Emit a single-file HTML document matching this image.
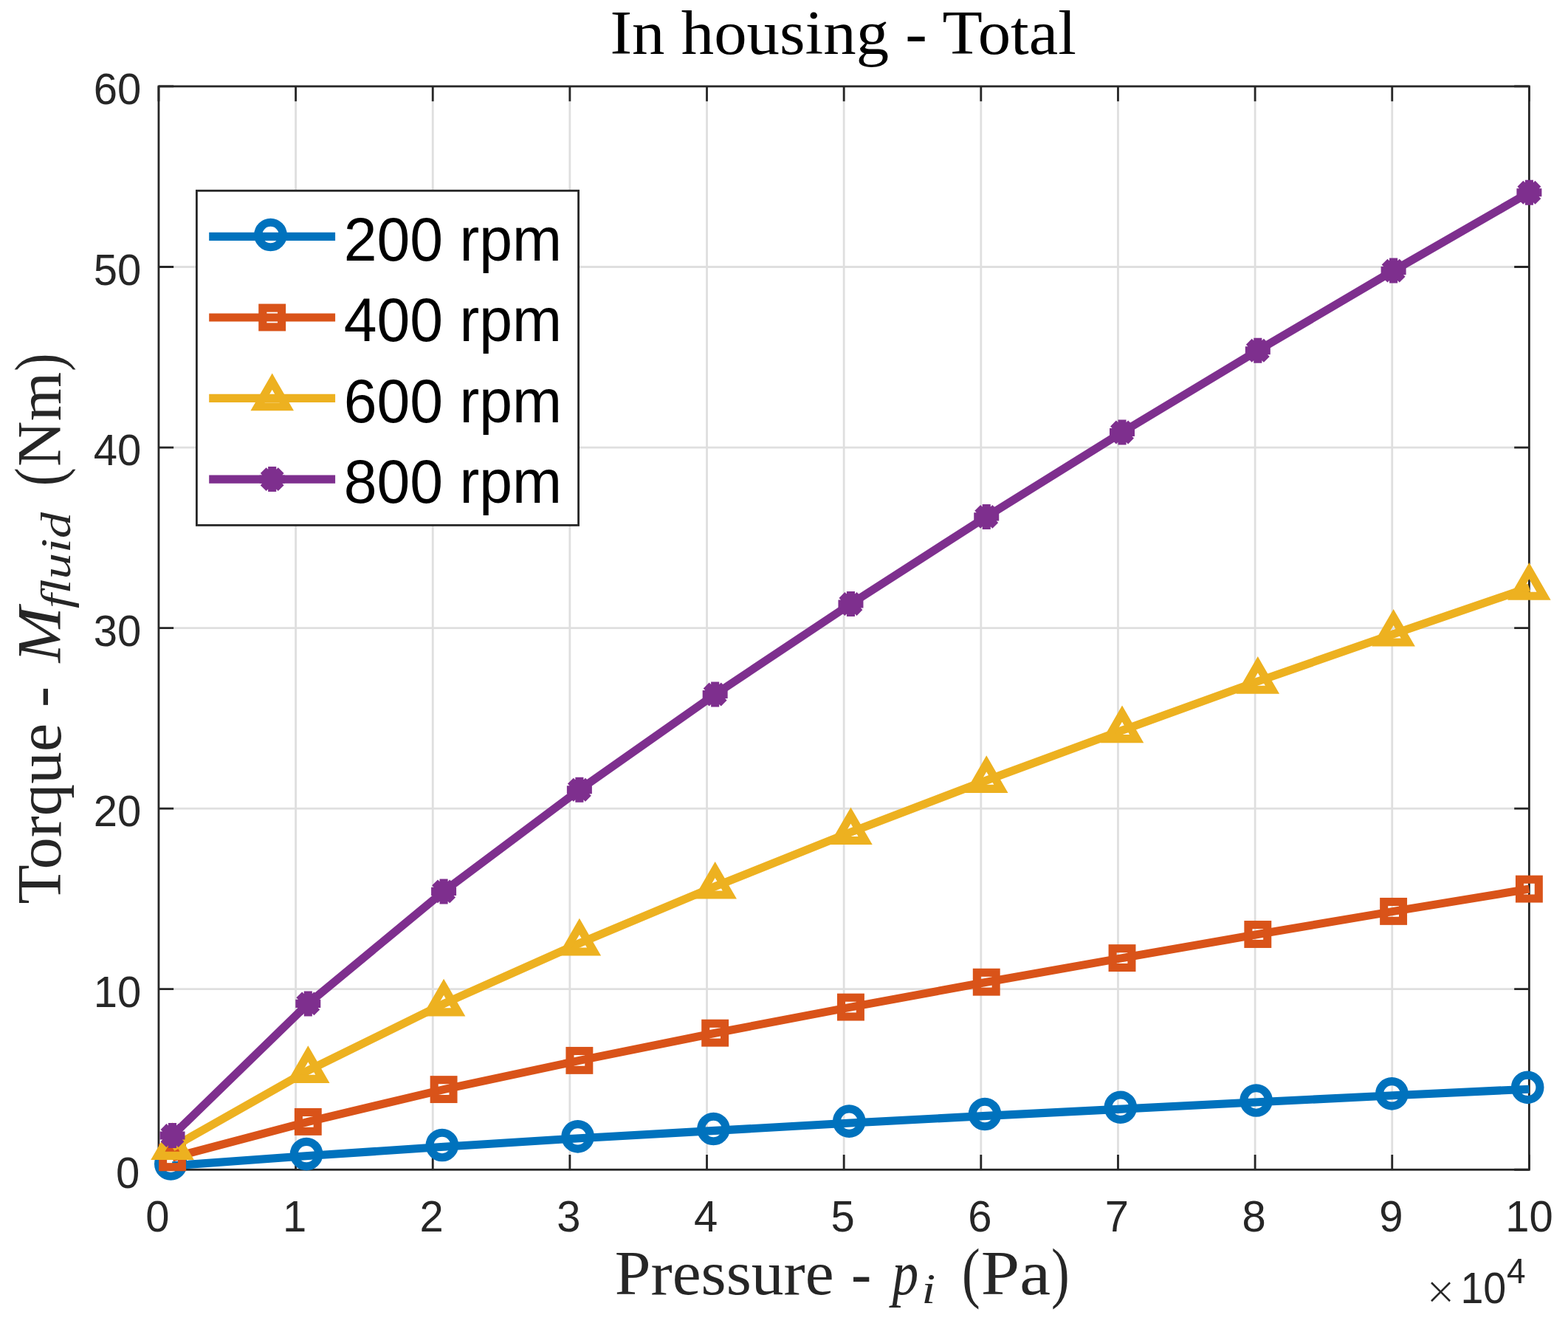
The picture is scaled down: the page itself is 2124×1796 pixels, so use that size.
<!DOCTYPE html>
<html><head><meta charset="utf-8"><title>In housing - Total</title><style>html,body{margin:0;padding:0;background:#fff;overflow:hidden}svg{display:block}</style></head><body>
<svg width="2124" height="1796" viewBox="0 0 2124 1796">
<rect width="2124" height="1796" fill="#fff"/>
<g stroke="#DFDFDF" stroke-width="2.8"><line x1="400.6" y1="116.95" x2="400.6" y2="1584.25"/>
<line x1="586.24" y1="116.95" x2="586.24" y2="1584.25"/>
<line x1="771.88" y1="116.95" x2="771.88" y2="1584.25"/>
<line x1="957.53" y1="116.95" x2="957.53" y2="1584.25"/>
<line x1="1143.17" y1="116.95" x2="1143.17" y2="1584.25"/>
<line x1="1328.82" y1="116.95" x2="1328.82" y2="1584.25"/>
<line x1="1514.47" y1="116.95" x2="1514.47" y2="1584.25"/>
<line x1="1700.11" y1="116.95" x2="1700.11" y2="1584.25"/>
<line x1="1885.76" y1="116.95" x2="1885.76" y2="1584.25"/>
<line x1="214.95" y1="1339.7" x2="2071.4" y2="1339.7"/>
<line x1="214.95" y1="1095.15" x2="2071.4" y2="1095.15"/>
<line x1="214.95" y1="850.6" x2="2071.4" y2="850.6"/>
<line x1="214.95" y1="606.05" x2="2071.4" y2="606.05"/>
<line x1="214.95" y1="361.5" x2="2071.4" y2="361.5"/></g>
<g stroke="#262626" stroke-width="2.8" fill="none" stroke-linecap="butt"><rect x="214.95" y="116.95" width="1856.45" height="1467.3" fill="none"/>
<path d="M214.95 1584.25V1564.05M214.95 116.95V137.15M400.6 1584.25V1564.05M400.6 116.95V137.15M586.24 1584.25V1564.05M586.24 116.95V137.15M771.88 1584.25V1564.05M771.88 116.95V137.15M957.53 1584.25V1564.05M957.53 116.95V137.15M1143.17 1584.25V1564.05M1143.17 116.95V137.15M1328.82 1584.25V1564.05M1328.82 116.95V137.15M1514.47 1584.25V1564.05M1514.47 116.95V137.15M1700.11 1584.25V1564.05M1700.11 116.95V137.15M1885.76 1584.25V1564.05M1885.76 116.95V137.15M2071.4 1584.25V1564.05M2071.4 116.95V137.15M214.95 1584.25H235.15M2071.4 1584.25H2051.2M214.95 1339.7H235.15M2071.4 1339.7H2051.2M214.95 1095.15H235.15M2071.4 1095.15H2051.2M214.95 850.6H235.15M2071.4 850.6H2051.2M214.95 606.05H235.15M2071.4 606.05H2051.2M214.95 361.5H235.15M2071.4 361.5H2051.2M214.95 116.95H235.15M2071.4 116.95H2051.2"/></g>
<g font-family="'Liberation Sans', Arial, Helvetica, sans-serif" fill="#262626"><text transform="translate(189.2 1608.55) scale(1 1.028)" font-size="58" text-anchor="end">0</text>
<text transform="translate(191.2 1364) scale(1 1.028)" font-size="58" text-anchor="end">10</text>
<text transform="translate(191.2 1119.45) scale(1 1.028)" font-size="58" text-anchor="end">20</text>
<text transform="translate(191.2 874.9) scale(1 1.028)" font-size="58" text-anchor="end">30</text>
<text transform="translate(191.2 630.35) scale(1 1.028)" font-size="58" text-anchor="end">40</text>
<text transform="translate(191.2 385.8) scale(1 1.028)" font-size="58" text-anchor="end">50</text>
<text transform="translate(191.2 141.25) scale(1 1.028)" font-size="58" text-anchor="end">60</text>
<text transform="translate(213.45 1667.5) scale(1 1.028)" font-size="58" text-anchor="middle">0</text>
<text transform="translate(399.1 1667.5) scale(1 1.028)" font-size="58" text-anchor="middle">1</text>
<text transform="translate(584.74 1667.5) scale(1 1.028)" font-size="58" text-anchor="middle">2</text>
<text transform="translate(770.38 1667.5) scale(1 1.028)" font-size="58" text-anchor="middle">3</text>
<text transform="translate(956.03 1667.5) scale(1 1.028)" font-size="58" text-anchor="middle">4</text>
<text transform="translate(1141.67 1667.5) scale(1 1.028)" font-size="58" text-anchor="middle">5</text>
<text transform="translate(1327.32 1667.5) scale(1 1.028)" font-size="58" text-anchor="middle">6</text>
<text transform="translate(1512.97 1667.5) scale(1 1.028)" font-size="58" text-anchor="middle">7</text>
<text transform="translate(1698.61 1667.5) scale(1 1.028)" font-size="58" text-anchor="middle">8</text>
<text transform="translate(1884.26 1667.5) scale(1 1.028)" font-size="58" text-anchor="middle">9</text>
<text transform="translate(2071.4 1667.5) scale(1 1.028)" font-size="58" text-anchor="middle">10</text>
<text transform="translate(1978.4 1764.5) scale(1 1.028)" font-size="58" textLength="61.8" lengthAdjust="spacingAndGlyphs">10</text>
<text transform="translate(2041 1737.9) scale(1 1.028)" font-size="46">4</text></g>
<text x="1929.8" y="1765.8" font-family="'DejaVu Sans', sans-serif" font-weight="200" font-size="52" fill="#262626">×</text>
<polyline points="233.51,1578.85 417.3,1565.45 601.09,1553.3 784.88,1541.7 968.67,1531.4 1152.46,1521 1336.25,1511.4 1520.03,1502.1 1703.82,1492.8 1887.61,1483.7 2071.4,1475.2" fill="none" stroke="#0072BD" stroke-width="11.1" stroke-linejoin="miter" stroke-linecap="butt"/>
<circle cx="231.31" cy="1576.5" r="16.75" fill="none" stroke="#0072BD" stroke-width="11.1"/>
<circle cx="415.1" cy="1563.1" r="16.75" fill="none" stroke="#0072BD" stroke-width="11.1"/>
<circle cx="598.89" cy="1550.95" r="16.75" fill="none" stroke="#0072BD" stroke-width="11.1"/>
<circle cx="782.68" cy="1539.35" r="16.75" fill="none" stroke="#0072BD" stroke-width="11.1"/>
<circle cx="966.47" cy="1529.05" r="16.75" fill="none" stroke="#0072BD" stroke-width="11.1"/>
<circle cx="1150.26" cy="1518.65" r="16.75" fill="none" stroke="#0072BD" stroke-width="11.1"/>
<circle cx="1334.05" cy="1509.05" r="16.75" fill="none" stroke="#0072BD" stroke-width="11.1"/>
<circle cx="1517.83" cy="1499.75" r="16.75" fill="none" stroke="#0072BD" stroke-width="11.1"/>
<circle cx="1701.62" cy="1490.45" r="16.75" fill="none" stroke="#0072BD" stroke-width="11.1"/>
<circle cx="1885.41" cy="1481.35" r="16.75" fill="none" stroke="#0072BD" stroke-width="11.1"/>
<circle cx="2069.2" cy="1472.85" r="16.75" fill="none" stroke="#0072BD" stroke-width="11.1"/>
<polyline points="233.51,1567.8 417.3,1519.4 601.09,1475.6 784.88,1436.4 968.67,1399.2 1152.46,1364.1 1336.25,1330.2 1520.03,1297.6 1703.82,1265.5 1887.61,1234.4 2071.4,1204.1" fill="none" stroke="#D95319" stroke-width="11.1" stroke-linejoin="miter" stroke-linecap="butt"/>
<rect x="220.61" y="1554.9" width="25.8" height="25.8" fill="none" stroke="#D95319" stroke-width="11.1"/>
<rect x="404.4" y="1506.5" width="25.8" height="25.8" fill="none" stroke="#D95319" stroke-width="11.1"/>
<rect x="588.19" y="1462.7" width="25.8" height="25.8" fill="none" stroke="#D95319" stroke-width="11.1"/>
<rect x="771.98" y="1423.5" width="25.8" height="25.8" fill="none" stroke="#D95319" stroke-width="11.1"/>
<rect x="955.77" y="1386.3" width="25.8" height="25.8" fill="none" stroke="#D95319" stroke-width="11.1"/>
<rect x="1139.56" y="1351.2" width="25.8" height="25.8" fill="none" stroke="#D95319" stroke-width="11.1"/>
<rect x="1323.35" y="1317.3" width="25.8" height="25.8" fill="none" stroke="#D95319" stroke-width="11.1"/>
<rect x="1507.13" y="1284.7" width="25.8" height="25.8" fill="none" stroke="#D95319" stroke-width="11.1"/>
<rect x="1690.92" y="1252.6" width="25.8" height="25.8" fill="none" stroke="#D95319" stroke-width="11.1"/>
<rect x="1874.71" y="1221.5" width="25.8" height="25.8" fill="none" stroke="#D95319" stroke-width="11.1"/>
<rect x="2058.5" y="1191.2" width="25.8" height="25.8" fill="none" stroke="#D95319" stroke-width="11.1"/>
<polyline points="233.51,1554.05 417.3,1450 601.09,1359.5 784.88,1277.6 968.67,1200.7 1152.46,1127.2 1336.25,1057 1520.03,989.3 1703.82,922.9 1887.61,858.7 2071.4,795.85" fill="none" stroke="#EDB120" stroke-width="11.1" stroke-linejoin="miter" stroke-linecap="butt"/>
<polygon points="233.51,1531.35 253.17,1565.4 213.86,1565.4" fill="none" stroke="#EDB120" stroke-width="11.1" stroke-miterlimit="10"/>
<polygon points="417.3,1427.3 436.96,1461.35 397.64,1461.35" fill="none" stroke="#EDB120" stroke-width="11.1" stroke-miterlimit="10"/>
<polygon points="601.09,1336.8 620.75,1370.85 581.43,1370.85" fill="none" stroke="#EDB120" stroke-width="11.1" stroke-miterlimit="10"/>
<polygon points="784.88,1254.9 804.54,1288.95 765.22,1288.95" fill="none" stroke="#EDB120" stroke-width="11.1" stroke-miterlimit="10"/>
<polygon points="968.67,1178 988.33,1212.05 949.01,1212.05" fill="none" stroke="#EDB120" stroke-width="11.1" stroke-miterlimit="10"/>
<polygon points="1152.46,1104.5 1172.12,1138.55 1132.8,1138.55" fill="none" stroke="#EDB120" stroke-width="11.1" stroke-miterlimit="10"/>
<polygon points="1336.25,1034.3 1355.9,1068.35 1316.59,1068.35" fill="none" stroke="#EDB120" stroke-width="11.1" stroke-miterlimit="10"/>
<polygon points="1520.03,966.6 1539.69,1000.65 1500.38,1000.65" fill="none" stroke="#EDB120" stroke-width="11.1" stroke-miterlimit="10"/>
<polygon points="1703.82,900.2 1723.48,934.25 1684.16,934.25" fill="none" stroke="#EDB120" stroke-width="11.1" stroke-miterlimit="10"/>
<polygon points="1887.61,836 1907.27,870.05 1867.95,870.05" fill="none" stroke="#EDB120" stroke-width="11.1" stroke-miterlimit="10"/>
<polygon points="2071.4,773.15 2091.06,807.2 2051.74,807.2" fill="none" stroke="#EDB120" stroke-width="11.1" stroke-miterlimit="10"/>
<polyline points="233.51,1538.06 417.3,1359.4 601.09,1207.4 784.88,1069.7 968.67,940.5 1152.46,818 1336.25,699.9 1520.03,585.5 1703.82,474.8 1887.61,366.6 2071.4,260.8" fill="none" stroke="#7E2F8E" stroke-width="11.1" stroke-linejoin="miter" stroke-linecap="butt"/>
<path d="M216.51 1538.06H250.51M233.51 1521.06V1555.06M221.49 1526.04L245.54 1550.08M221.49 1550.08L245.54 1526.04" fill="none" stroke="#7E2F8E" stroke-width="11.1" stroke-linecap="butt"/>
<path d="M400.3 1359.4H434.3M417.3 1342.4V1376.4M405.28 1347.38L429.32 1371.42M405.28 1371.42L429.32 1347.38" fill="none" stroke="#7E2F8E" stroke-width="11.1" stroke-linecap="butt"/>
<path d="M584.09 1207.4H618.09M601.09 1190.4V1224.4M589.07 1195.38L613.11 1219.42M589.07 1219.42L613.11 1195.38" fill="none" stroke="#7E2F8E" stroke-width="11.1" stroke-linecap="butt"/>
<path d="M767.88 1069.7H801.88M784.88 1052.7V1086.7M772.86 1057.68L796.9 1081.72M772.86 1081.72L796.9 1057.68" fill="none" stroke="#7E2F8E" stroke-width="11.1" stroke-linecap="butt"/>
<path d="M951.67 940.5H985.67M968.67 923.5V957.5M956.65 928.48L980.69 952.52M956.65 952.52L980.69 928.48" fill="none" stroke="#7E2F8E" stroke-width="11.1" stroke-linecap="butt"/>
<path d="M1135.46 818H1169.46M1152.46 801V835M1140.44 805.98L1164.48 830.02M1140.44 830.02L1164.48 805.98" fill="none" stroke="#7E2F8E" stroke-width="11.1" stroke-linecap="butt"/>
<path d="M1319.25 699.9H1353.25M1336.25 682.9V716.9M1324.22 687.88L1348.27 711.92M1324.22 711.92L1348.27 687.88" fill="none" stroke="#7E2F8E" stroke-width="11.1" stroke-linecap="butt"/>
<path d="M1503.03 585.5H1537.03M1520.03 568.5V602.5M1508.01 573.48L1532.06 597.52M1508.01 597.52L1532.06 573.48" fill="none" stroke="#7E2F8E" stroke-width="11.1" stroke-linecap="butt"/>
<path d="M1686.82 474.8H1720.82M1703.82 457.8V491.8M1691.8 462.78L1715.84 486.82M1691.8 486.82L1715.84 462.78" fill="none" stroke="#7E2F8E" stroke-width="11.1" stroke-linecap="butt"/>
<path d="M1870.61 366.6H1904.61M1887.61 349.6V383.6M1875.59 354.58L1899.63 378.62M1875.59 378.62L1899.63 354.58" fill="none" stroke="#7E2F8E" stroke-width="11.1" stroke-linecap="butt"/>
<path d="M2054.4 260.8H2088.4M2071.4 243.8V277.8M2059.38 248.78L2083.42 272.82M2059.38 272.82L2083.42 248.78" fill="none" stroke="#7E2F8E" stroke-width="11.1" stroke-linecap="butt"/>
<rect x="266.4" y="258.3" width="517.2" height="453.1" fill="#fff" stroke="#262626" stroke-width="2.8"/>
<line x1="283.2" y1="320.4" x2="454.1" y2="320.4" stroke="#0072BD" stroke-width="11.1"/>
<circle cx="366.5" cy="318.05" r="16.75" fill="none" stroke="#0072BD" stroke-width="11.1"/>
<line x1="283.2" y1="430" x2="454.1" y2="430" stroke="#D95319" stroke-width="11.1"/>
<rect x="355.8" y="417.1" width="25.8" height="25.8" fill="none" stroke="#D95319" stroke-width="11.1"/>
<line x1="283.2" y1="539.4" x2="454.1" y2="539.4" stroke="#EDB120" stroke-width="11.1"/>
<polygon points="368.7,516.7 388.36,550.75 349.04,550.75" fill="none" stroke="#EDB120" stroke-width="11.1" stroke-miterlimit="10"/>
<line x1="283.2" y1="649.1" x2="454.1" y2="649.1" stroke="#7E2F8E" stroke-width="11.1"/>
<path d="M351.7 649.1H385.7M368.7 632.1V666.1M356.68 637.08L380.72 661.12M356.68 661.12L380.72 637.08" fill="none" stroke="#7E2F8E" stroke-width="11.1" stroke-linecap="butt"/>
<g font-family="'Liberation Sans', Arial, Helvetica, sans-serif" fill="#000"><text transform="translate(465.8 352.7) scale(1 1.028)" font-size="80.5">200 rpm</text>
<text transform="translate(465.8 462.3) scale(1 1.028)" font-size="80.5">400 rpm</text>
<text transform="translate(465.8 571.7) scale(1 1.028)" font-size="80.5">600 rpm</text>
<text transform="translate(465.8 681.4) scale(1 1.028)" font-size="80.5">800 rpm</text></g>
<g font-family="'Liberation Serif', 'Times New Roman', serif" fill="#000"><text x="826.5" y="72.9" font-size="84.5" textLength="631.4" lengthAdjust="spacingAndGlyphs">In housing - Total</text></g>
<g font-family="'Liberation Serif', 'Times New Roman', serif" fill="#262626"><text x="832.8" y="1752.8" font-size="84" textLength="296.8" lengthAdjust="spacingAndGlyphs">Pressure</text>
<text x="1152.9" y="1752.8" font-size="84" textLength="27.3" lengthAdjust="spacingAndGlyphs">-</text>
<text x="1208.5" y="1752.8" font-size="84" textLength="35.7" lengthAdjust="spacingAndGlyphs" font-style="italic">p</text>
<text x="1248.6" y="1764.8" font-size="56" textLength="18.7" lengthAdjust="spacingAndGlyphs" font-style="italic">i</text>
<text x="1302.9" y="1753.5" font-size="90" textLength="24.7" lengthAdjust="spacingAndGlyphs">(</text>
<text x="1328.8" y="1752.8" font-size="84" textLength="94.25" lengthAdjust="spacingAndGlyphs">Pa</text>
<text x="1424.1" y="1753.5" font-size="90" textLength="24.7" lengthAdjust="spacingAndGlyphs">)</text></g>
<g transform="rotate(-90)" font-family="'Liberation Serif', 'Times New Roman', serif" fill="#262626"><text x="-1224.6" y="81.9" font-size="84" textLength="244.8" lengthAdjust="spacingAndGlyphs">Torque</text>
<text x="-958" y="81.9" font-size="84" textLength="28.2" lengthAdjust="spacingAndGlyphs">-</text>
<text x="-897.5" y="81.9" font-size="84" textLength="75.5" lengthAdjust="spacingAndGlyphs" font-style="italic">M</text>
<text x="-823.9" y="94.9" font-size="56" textLength="130" lengthAdjust="spacingAndGlyphs" font-style="italic">fluid</text>
<text x="-658.3" y="82.5" font-size="90" textLength="25" lengthAdjust="spacingAndGlyphs">(</text>
<text x="-631.9" y="81.9" font-size="84" textLength="127.8" lengthAdjust="spacingAndGlyphs">Nm</text>
<text x="-502.8" y="82.5" font-size="90" textLength="24.1" lengthAdjust="spacingAndGlyphs">)</text></g>
</svg>
</body></html>
